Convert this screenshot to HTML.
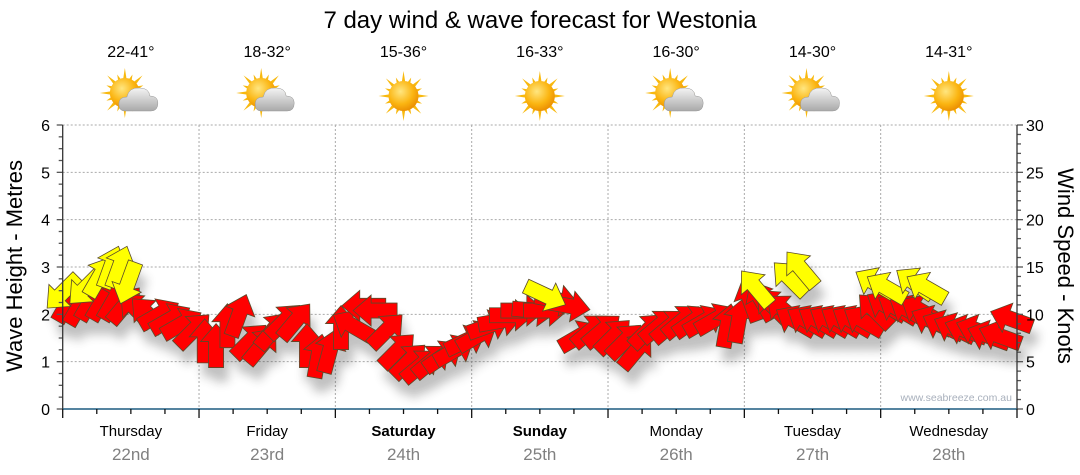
<!DOCTYPE html>
<html><head><meta charset="utf-8">
<style>
html,body{margin:0;padding:0;background:#fff;}
svg{display:block;font-family:"Liberation Sans",Arial,sans-serif;}
</style></head>
<body>
<svg id="chart" width="1080" height="475" viewBox="0 0 1080 475" xmlns="http://www.w3.org/2000/svg">
<defs>
<radialGradient id="sunG" cx="0.4" cy="0.35" r="0.7"><stop offset="0" stop-color="#ffe680"/><stop offset="0.6" stop-color="#fbb511"/><stop offset="1" stop-color="#e98a00"/></radialGradient>
<linearGradient id="cloudG" x1="0" y1="0" x2="0" y2="1"><stop offset="0" stop-color="#f4f4f4"/><stop offset="1" stop-color="#a9a9a9"/></linearGradient>
<filter id="shadow" x="-50%" y="-50%" width="200%" height="200%"><feGaussianBlur stdDeviation="5"/></filter>
</defs>
<text x="540" y="28" font-size="24" text-anchor="middle" fill="#000">7 day wind &amp; wave forecast for Westonia</text>
<g id="grid"></g>
<g id="shadows" filter="url(#shadow)" opacity="0.3"></g>
<g id="marks"></g>
<g id="axes"></g>
<g id="icons"></g>
<text x="1012" y="401" font-size="10.5" fill="#a8b0bc" text-anchor="end">www.seabreeze.com.au</text>
<text transform="translate(22,266) rotate(-90)" font-size="22" text-anchor="middle">Wave Height - Metres</text>
<text transform="translate(1058,266) rotate(90)" font-size="22" text-anchor="middle">Wind Speed - Knots</text>
</svg>
<script>
const days = ["Thursday","Friday","Saturday","Sunday","Monday","Tuesday","Wednesday"];
const dates = ["22nd","23rd","24th","25th","26th","27th","28th"];
const boldDays = [false,false,true,true,false,false,false];
const temps = ["22-41°","18-32°","15-36°","16-33°","16-30°","14-30°","14-31°"];
const cloudy = [true,true,false,false,true,true,false];
const waveTicks = [0,1,2,3,4,5,6];
const windTicks = [0,5,10,15,20,25,30];
// wind (red) every 2 hours from Thursday 01:00
const windKnots = [
 11.3,11,11.5,11.5,11.5,11,10.5,10,10,9.5,9,8.3,
 7.2,6.7,8.8,9.9,7.2,6.7,8.3,9.3,9.3,6.7,5.6,6.1,
 8.6,8.8,10.9,10.4,8.3,6.2,5.1,4.6,5.1,5.6,6.2,7.2,
 7.7,8.8,9.3,9.9,10.4,10.4,10.4,11.5,10.9,7.7,8.3,8.3,
 7.7,7.2,6.2,8.3,8.8,8.8,9.3,9.3,9.3,9.5,8.8,9.3,
 11.5,11.5,10.9,10.4,9.3,9.3,9.3,9.3,9.3,9.3,9.3,10.4,
 10.9,10.6,10.4,10.4,9.3,8.8,8.5,8.3,8.3,7.7,7.7,9.5];
const windDir = [
 30,30,30,30,30,40,315,315,60,60,60,45,
 0,0,0,20,45,40,40,45,40,0,10,15,
 0,300,270,270,45,45,45,50,50,55,60,65,
 60,70,80,90,90,95,90,100,100,60,50,50,
 45,45,40,45,50,50,50,55,60,60,10,10,
 340,330,315,310,300,300,300,300,300,300,300,315,
 300,300,300,300,295,295,295,290,290,290,290,290];
// yellow series (sparse)
const yelHours = [0,4,6.5,8.5,10,11.5,85,122,128,130,143,145,150,152];
const yelKnots = [12.3,12.8,14,15,15,13.3,12,12.8,13.8,14.8,13.3,12.8,13.3,12.8];
const yelDir = [225,225,30,20,20,200,115,320,315,320,300,300,305,300];

const X0=62.7, X1=1017, YT=125, YB=409, HOURS=168;
const xH = h => X0 + h/HOURS*(X1-X0);
const yM = m => YB - m/6*(YB-YT);
const yK = k => YB - k/30*(YB-YT);
const NS="http://www.w3.org/2000/svg";
function mk(tag, attrs, parent){const e=document.createElementNS(NS,tag);for(const k in attrs)e.setAttribute(k,attrs[k]);parent.appendChild(e);return e;}
const grid=document.getElementById('grid'), axes=document.getElementById('axes'), marks=document.getElementById('marks'), shadows=document.getElementById('shadows'), icons=document.getElementById('icons');

waveTicks.forEach(m=>{
  if(m>0){const g=mk('line',{x1:X0,x2:X1,y1:yM(m),y2:yM(m),stroke:'#aaa','stroke-dasharray':'2,2'},grid);
  
  }
  const t=mk('text',{x:50,y:yM(m)+6,'font-size':16,'text-anchor':'end',fill:'#000'},axes);t.textContent=m;
  
  
});
for(let i=0;i<=24;i++){const y=yM(i/4);mk('line',{x1:X0-(i%4==0?6:4),x2:X0,y1:y,y2:y,stroke:'#555','stroke-width':1.3},axes);}
windTicks.forEach(k=>{
  const t=mk('text',{x:1026,y:yK(k)+6,'font-size':16,fill:'#000'},axes);t.textContent=k;
  
  
});
for(let i=0;i<=30;i++){const y=yK(i);mk('line',{x1:X1,x2:X1+(i%5==0?6:4),y1:y,y2:y,stroke:'#555','stroke-width':1.3},axes);}
mk('line',{x1:X0,x2:X0,y1:YT,y2:YB,stroke:'#333','stroke-width':1.3},axes);
mk('line',{x1:X1,x2:X1,y1:YT,y2:YB,stroke:'#333','stroke-width':1.3},axes);
const xa=mk('line',{x1:X0,x2:X1,y1:YB,y2:YB,stroke:'#1d5b80','stroke-width':1.5},axes);


for(let q=0;q<=28;q++){const x=xH(q*6);mk('line',{x1:x,x2:x,y1:YB,y2:YB+(q%4==0?9:5),stroke:'#111','stroke-width':1.3},axes);
  if(q%4==0&&q>0&&q<28){const g=mk('line',{x1:x,x2:x,y1:YT,y2:YB,stroke:'#aaa','stroke-dasharray':'2,2'},grid);
  
  }}
days.forEach((d,i)=>{
  const cx=xH(i*24+12);
  const t=mk('text',{x:cx,y:436,'font-size':15,'text-anchor':'middle','font-weight':boldDays[i]?'bold':'normal',fill:'#000'},axes);t.textContent=d;
  
  
  const t2=mk('text',{x:cx,y:460,'font-size':17,'text-anchor':'middle',fill:'#808080'},axes);t2.textContent=dates[i];
  
  
  const t3=mk('text',{x:cx,y:57,'font-size':16,'text-anchor':'middle',fill:'#000'},icons);t3.textContent=temps[i];
  
  
  const g=mk('g',{transform:`translate(${cx},96)`},icons);
  
  
  const sx=cloudy[i]?-6:0, sy=cloudy[i]?-3:0;
  for(let r=0;r<16;r++){const a=r*Math.PI/8, L=r%2?20:25;
    const p=[[sx+Math.cos(a)*L,sy+Math.sin(a)*L],[sx+Math.cos(a+0.17)*12,sy+Math.sin(a+0.17)*12],[sx+Math.cos(a-0.17)*12,sy+Math.sin(a-0.17)*12]];
    mk('polygon',{points:p.map(v=>v.join(',')).join(' '),fill:'#f8b90f'},g);}
  mk('circle',{cx:sx,cy:sy,r:15,fill:'url(#sunG)'},g);
  if(cloudy[i]){
    mk('path',{d:'M-6,15 Q-12,15 -12,8 Q-12,1 -4,1 Q-2,-9 9,-8 Q18,-8 19,0 Q27,0 27,7 Q27,15 20,15 Z',fill:'url(#cloudG)',stroke:'#999','stroke-width':0.5},g);
  }
});

function arrowPts(){ // pointing up, centered at origin
  return [[-7.5,22],[7.5,22],[7.5,-4],[15.5,-4],[0,-22],[-15.5,-4],[-7.5,-4]].map(v=>v.join(',')).join(' ');
}
function drawArrow(h,k,dir,color,name){
  const x=xH(h), y=yK(k);
  mk('polygon',{points:arrowPts(),transform:`translate(${x+5},${y+14}) rotate(${dir})`,fill:'#333'},shadows);
  const p=mk('polygon',{points:arrowPts(),transform:`translate(${x},${y}) rotate(${dir})`,fill:color,stroke:'#5a4a2a','stroke-width':0.8},marks);
  
  
}
windKnots.forEach((k,i)=>drawArrow(1+i*2,k,windDir[i],'#ff0000','wind-arrow'));
yelHours.forEach((h,i)=>drawArrow(h,yelKnots[i],yelDir[i],'#ffff00','swell-arrow'));
</script>
</body></html>
